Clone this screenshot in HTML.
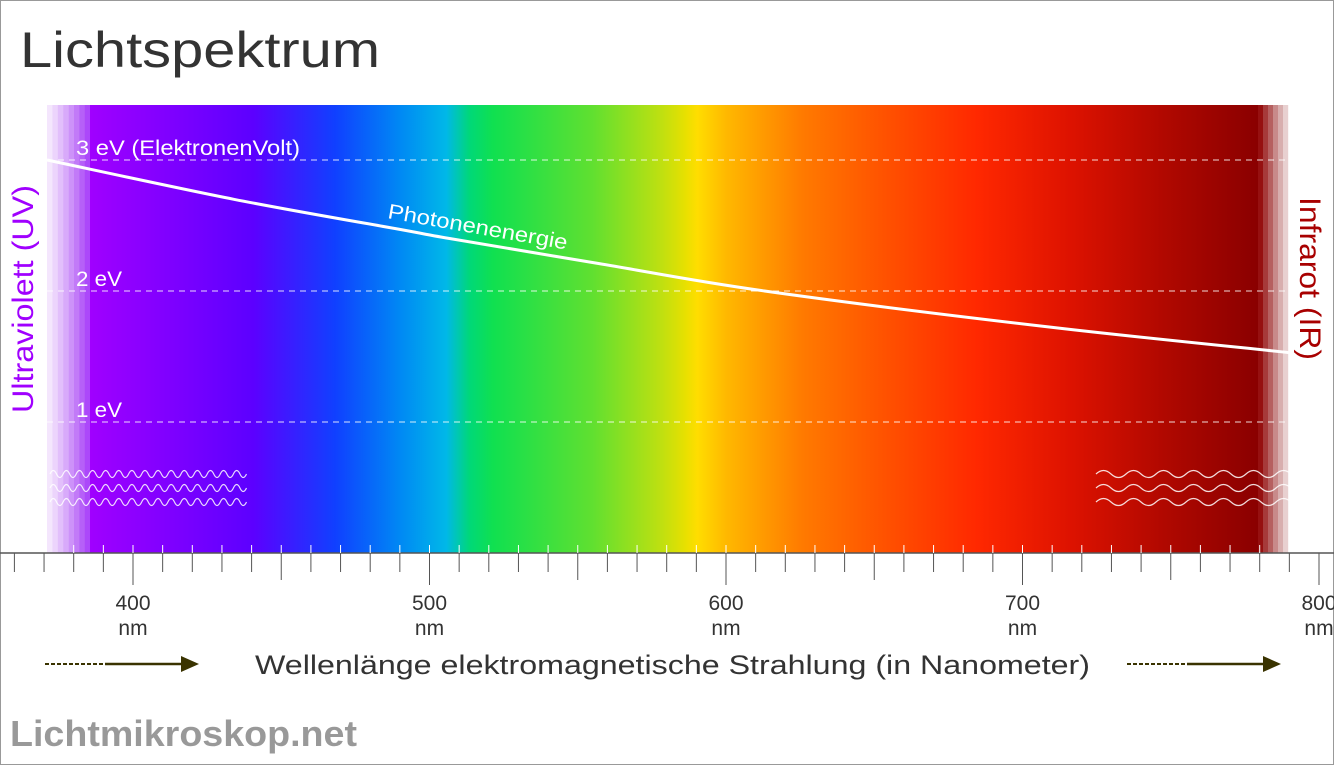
<!DOCTYPE html>
<html><head><meta charset="utf-8">
<style>
html,body{margin:0;padding:0;background:#fff;}
body{width:1334px;height:765px;overflow:hidden;font-family:"Liberation Sans",sans-serif;}
#frame{position:absolute;left:0;top:0;width:1332px;height:763px;border:1px solid #999;}
</style></head>
<body>
<div id="frame"></div>
<svg id="chart" width="1334" height="765" style="position:absolute;left:0;top:0">
<defs>
<linearGradient id="spec" x1="90" x2="1258" y1="0" y2="0" gradientUnits="userSpaceOnUse"></linearGradient>
</defs>
</svg>
<script>
// Chart data
const energyWavelengths = [371, 434, 490, 507, 557, 613, 709, 790];
const energyValues = [3.0, 2.70, 2.47, 2.40, 2.21, 2.0, 1.725, 1.53];
const gridEnergies = [1, 2, 3];
const gridLabels = ["1 eV", "2 eV", "3 eV (ElektronenVolt)"];
const tickLabels = [400, 500, 600, 700, 800];

const NS = "http://www.w3.org/2000/svg";
const svg = document.getElementById('chart');
const grad = document.getElementById('spec');
const stops = [[0,"#a000ff"],[0.14,"#5c00ff"],[0.21,"#1040ff"],[0.265,"#0088f4"],[0.305,"#00b8e8"],[0.325,"#00d878"],[0.345,"#10e050"],[0.43,"#60e030"],[0.49,"#c0e010"],[0.51,"#e8e000"],[0.52,"#ffdd00"],[0.545,"#ffb800"],[0.57,"#ffa000"],[0.61,"#ff7a00"],[0.68,"#ff5200"],[0.76,"#ff2800"],[0.84,"#dd1200"],[0.92,"#b00800"],[1,"#8a0000"]];
stops.forEach(s=>{const st=document.createElementNS(NS,'stop');st.setAttribute('offset',s[0]);st.setAttribute('stop-color',s[1]);grad.appendChild(st);});

function x(nm){ return 133 + (nm-400)*2.965; }
function y(e){ return 553 - e*131; }
function el(tag, attrs, parent){ const e=document.createElementNS(NS,tag); for(const k in attrs) e.setAttribute(k,attrs[k]); (parent||svg).appendChild(e); return e; }

let t = el('text',{x:20,y:67,'font-size':50,fill:'#333',textLength:360,lengthAdjust:'spacingAndGlyphs'}); t.textContent='Lichtspektrum';
 

const uvCols=["#f4e6fd","#ecd4fc","#e2bffb","#d8aafa","#cd92f9","#c27af8","#b660f8","#ac48fa"];
uvCols.forEach((c,i)=>{ const r=el('rect',{x:47+i*5.4,y:105,width:5.6,height:448,fill:c});
   });
let sp = el('rect',{x:90,y:105,width:1168,height:448,fill:'url(#spec)'});
 
const irCols=["#961010","#a63a3a","#b66060","#c88a8a","#d8aeae","#e8d0d0"];
irCols.forEach((c,i)=>{ const r=el('rect',{x:1258+i*5,y:105,width:5.2,height:448,fill:c});
   });

const labelLens=[46,46,224];
gridEnergies.forEach((e,i)=>{
 const l=el('line',{x1:47,x2:1285,y1:y(e),y2:y(e),stroke:'#fff','stroke-width':1,'stroke-dasharray':'6,5',opacity:0.85});
  
 const tx=el('text',{x:76,y:y(e)-5,'font-size':21,fill:'#fff',textLength:labelLens[i],lengthAdjust:'spacingAndGlyphs'}); tx.textContent=gridLabels[i];
  
});

// smooth energy line (Catmull-Rom)
const pts = energyWavelengths.map((w,i)=>[x(w), y(energyValues[i])]);
let d='M'+pts[0][0].toFixed(1)+','+pts[0][1].toFixed(1);
for(let i=0;i<pts.length-1;i++){
 const p0=pts[Math.max(0,i-1)],p1=pts[i],p2=pts[i+1],p3=pts[Math.min(pts.length-1,i+2)];
 const c1=[p1[0]+(p2[0]-p0[0])/6,p1[1]+(p2[1]-p0[1])/6], c2=[p2[0]-(p3[0]-p1[0])/6,p2[1]-(p3[1]-p1[1])/6];
 d+=' C'+c1.map(v=>v.toFixed(1)).join(',')+' '+c2.map(v=>v.toFixed(1)).join(',')+' '+p2.map(v=>v.toFixed(1)).join(',');
}
let pl = el('path',{d:d,fill:'none',stroke:'#fff','stroke-width':3});
 
let pt = el('text',{x:0,y:0,'font-size':21,fill:'#fff',transform:'translate(387,218) rotate(10)',textLength:182,lengthAdjust:'spacingAndGlyphs'}); pt.textContent='Photonenenergie';
 

function wave(x0,x1,yy,per,amp){ let s='M'+x0+','+yy; for(let xx=x0;xx<x1-1;xx+=per){ s+=' q'+(per/4)+','+(-amp*2)+' '+(per/2)+',0 q'+(per/4)+','+(amp*2)+' '+(per/2)+',0'; } return s; }
[474,488,502].forEach(yy=>{
 const w1=el('path',{d:wave(50,244,yy,13.1,3.5),fill:'none',stroke:'#fff','stroke-width':1.2,opacity:0.85});
  
 const w2=el('path',{d:wave(1096,1286,yy,30,3.5),fill:'none',stroke:'#fff','stroke-width':1.2,opacity:0.85});
  
});

let uv=el('text',{x:0,y:0,'font-size':30,fill:'#a000ff',transform:'translate(33,413) rotate(-90)',textLength:228,lengthAdjust:'spacingAndGlyphs'}); uv.textContent='Ultraviolett (UV)';
 
let ir=el('text',{x:0,y:0,'font-size':30,fill:'#a80000',transform:'translate(1300,197) rotate(90)',textLength:163,lengthAdjust:'spacingAndGlyphs'}); ir.textContent='Infrarot (IR)';
 

let ax=el('line',{x1:0,x2:1334,y1:553,y2:553,stroke:'#555','stroke-width':1.5});
 
for(let nm=360; nm<=800; nm+=10){
 const xx=x(nm); const major=nm%100===0, half=nm%50===0;
 const len=major?32:(half?27:19);
 const tk=el('line',{x1:xx,x2:xx,y1:553,y2:553+len,stroke:'#555','stroke-width':1});
  
 if(xx>47 && xx<1288){ const wt=el('line',{x1:xx,x2:xx,y1:545,y2:553,stroke:'#fff','stroke-width':1});
    }
}
tickLabels.forEach(v=>{
 const a=el('text',{x:x(v),y:610,'font-size':21,fill:'#333','text-anchor':'middle'}); a.textContent=v;
  
 const b=el('text',{x:x(v),y:635,'font-size':21,fill:'#333','text-anchor':'middle'}); b.textContent='nm';
  
});

let at=el('text',{x:255,y:674,'font-size':27,fill:'#333',textLength:835,lengthAdjust:'spacingAndGlyphs'}); at.textContent='Wellenlänge elektromagnetische Strahlung (in Nanometer)';
 
function arrow(x0,name){
 const g=el('g',{});
  
 el('line',{x1:x0,x2:x0+60,y1:664,y2:664,stroke:'#3a3300','stroke-width':2,'stroke-dasharray':'4,2'},g);
 el('line',{x1:x0+60,x2:x0+140,y1:664,y2:664,stroke:'#3a3300','stroke-width':2.5},g);
 el('polygon',{points:(x0+136)+',656 '+(x0+154)+',664 '+(x0+136)+',672',fill:'#3a3300'},g);
}
arrow(45,'left-arrow'); arrow(1127,'right-arrow');

let ft=el('text',{x:10,y:746,'font-size':36,'font-weight':'bold',fill:'#999',textLength:347,lengthAdjust:'spacingAndGlyphs'}); ft.textContent='Lichtmikroskop.net';
 
</script>
</body></html>
